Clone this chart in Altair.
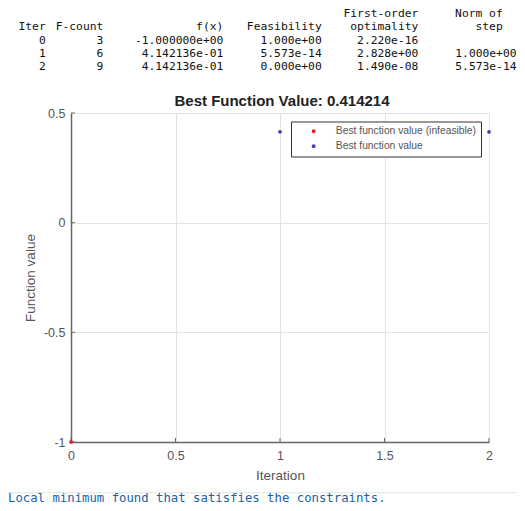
import altair as alt
import pandas as pd

# ---- data ----
iterations = [0, 1, 2]
best_values = [-1.0, 0.4142136, 0.4142136]
statuses = ["Best function value (infeasible)", "Best function value", "Best function value"]
legend_order = ["Best function value (infeasible)", "Best function value"]
legend_colors = ["#e8161e", "#3d3db5"]

x_ticks = [0, 0.5, 1, 1.5, 2]
y_ticks = [-1, -0.5, 0, 0.5]

# iteration table (one list per printed column, 5 printed lines)
col_iter = ["", "Iter", "0", "1", "2"]
col_fcount = ["", "F-count", "3", "6", "9"]
col_fx = ["", "f(x)", "-1.000000e+00", "4.142136e-01", "4.142136e-01"]
col_feas = ["", "Feasibility", "1.000e+00", "5.573e-14", "0.000e+00"]
col_opt = ["First-order", "optimality", "2.220e-16", "2.828e+00", "1.490e-08"]
col_step_head = ["Norm of", "step", "", "", ""]
col_step_vals = ["", "", "", "1.000e+00", "5.573e-14"]

message = "Local minimum found that satisfies the constraints."

# ---- chart ----
W, H = 418, 329
OX, OY = 71, 113  # plot origin on the page
CW, CH = 509, 495  # canvas size (page minus margins)

df = pd.DataFrame({"iter": iterations, "value": best_values, "status": statuses})
best = best_values[-1]

x_scale = alt.Scale(domain=[0, 2], nice=False)
y_scale = alt.Scale(domain=[-1, 0.5], nice=False)

sans = "Liberation Sans"
mono = "DejaVu Sans Mono"

x_axis = alt.Axis(values=x_ticks, ticks=False, grid=True, gridColor="#e3e3e3",
                  domainColor="#666666", domainWidth=1.5, labelFlush=False,
                  labelExpr="'' + datum.value", labelColor="#555555",
                  labelFont=sans, labelFontSize=12.5, labelPadding=7,
                  title="Iteration", titleFont=sans, titleFontSize=13.5,
                  titleFontWeight="normal", titleColor="#555555", titlePadding=7)
y_axis = alt.Axis(values=y_ticks, ticks=False, grid=True, gridColor="#e3e3e3",
                  domainColor="#666666", domainWidth=1.5, labelFlush=False,
                  labelExpr="'' + datum.value", labelColor="#555555",
                  labelFont=sans, labelFontSize=12.5, labelPadding=6,
                  title="Function value", titleFont=sans, titleFontSize=13.5,
                  titleFontWeight="normal", titleColor="#555555", titlePadding=6)

points = alt.Chart(df).mark_circle(size=14, opacity=1).encode(
    x=alt.X("iter:Q", scale=x_scale, axis=x_axis),
    y=alt.Y("value:Q", scale=y_scale, axis=y_axis),
    color=alt.Color("status:N", scale=alt.Scale(domain=legend_order, range=legend_colors),
                    legend=alt.Legend(title=None, orient="none", legendX=220, legendY=8.5,
                                      fillColor="white", strokeColor="#333333",
                                      padding=4.5, symbolType="circle", symbolSize=14,
                                      symbolOffset=13, labelOffset=17,
                                      labelFont=sans, labelFontSize=10.3,
                                      labelColor="#555555", rowPadding=4,
                                      labelLimit=300)),
)

xt = alt.Chart(pd.DataFrame({"iter": x_ticks})).mark_rule(color="#666666", strokeWidth=1).encode(
    x=alt.X("iter:Q", scale=x_scale), y=alt.value(H), y2=alt.value(H - 4))
yt = alt.Chart(pd.DataFrame({"value": y_ticks})).mark_rule(color="#666666", strokeWidth=1).encode(
    y=alt.Y("value:Q", scale=y_scale), x=alt.value(0), x2=alt.value(4))

title = alt.Chart(pd.DataFrame({"t": [f"Best Function Value: {best:.6f}"]})).mark_text(
    font=sans, fontSize=15, fontWeight="bold", color="#222222", baseline="middle", align="center"
).encode(text="t:N", x=alt.value(W / 2 + 2), y=alt.value(101 - OY))

main = alt.layer(xt, yt, points, title)

line_scale = alt.Scale(domain=[0, 4], range=[14.2 - OY, 67.2 - OY])


def col_layer(texts, right_x):
    d = pd.DataFrame({"line": list(range(len(texts))), "txt": texts})
    return alt.Chart(d).mark_text(font=mono, fontSize=11.3, align="right",
                                  baseline="middle", color="#111111").encode(
        y=alt.Y("line:Q", scale=line_scale, axis=None),
        x=alt.value(right_x - OX),
        text="txt:N",
    )


table = alt.layer(
    col_layer(col_iter, 45.7),
    col_layer(col_fcount, 103.3),
    col_layer(col_fx, 223.3),
    col_layer(col_feas, 321.7),
    col_layer(col_opt, 418.3),
    col_layer(col_step_head, 502.7),
    col_layer(col_step_vals, 516.5),
)

sep = alt.Chart(pd.DataFrame({"a": [0]})).mark_rule(color="#e3e3e3", strokeWidth=1).encode(
    x=alt.value(-OX), x2=alt.value(525 - OX), y=alt.value(492.7 - OY))
msg = alt.Chart(pd.DataFrame({"m": [message]})).mark_text(
    font=mono, fontSize=12.3, align="left", baseline="middle", color="#1a5fa8"
).encode(text="m:N", x=alt.value(8 - OX), y=alt.value(497.5 - OY))

chart = alt.layer(main, table, sep, msg).resolve_scale(y="independent").properties(
    width=W, height=H,
    autosize=alt.AutoSizeParams(type="none"),
    padding={"left": OX - 8, "top": OY - 8, "right": CW - (OX - 8) - W, "bottom": CH - (OY - 8) - H},
).configure_view(stroke=None)

chart.save("out.html", embed_options={"renderer": "svg", "actions": False})
